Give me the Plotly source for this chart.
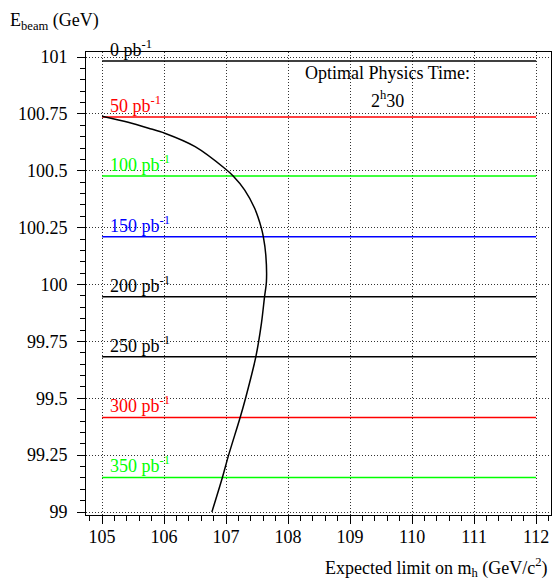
import plotly.graph_objects as go

# ---- data ----
lumi_pb = [0, 50, 100, 150, 200, 250, 300, 350]
ebeam_levels = [100.982, 100.736, 100.477, 100.210, 99.946, 99.683, 99.416, 99.152]
line_x_start = 105.0
line_x_end = 112.0

curve_mh = [105.00, 105.42, 105.75, 106.01, 106.50, 106.98, 107.11, 107.30, 107.46,
            107.57, 107.60, 107.64, 107.65, 107.62, 107.57, 107.48, 107.32, 107.23,
            107.04, 106.94, 106.77]
curve_ebeam = [100.740, 100.713, 100.687, 100.665, 100.606, 100.510, 100.478, 100.415, 100.335,
               100.247, 100.210, 100.130, 100.012, 99.947, 99.830, 99.683, 99.507, 99.419,
               99.250, 99.152, 99.000]

x_ticks = [105, 106, 107, 108, 109, 110, 111, 112]
y_ticks = [99, 99.25, 99.5, 99.75, 100, 100.25, 100.5, 100.75, 101]
y_tick_text = ["99", "99.25", "99.5", "99.75", "100", "100.25", "100.5", "100.75", "101"]

optimal_title = "Optimal Physics Time:"
optimal_value = "2<sup>h</sup>30"

# ---- styles ----
line_colors = ["#000000", "#ff0000", "#00ff00", "#0000ff", "#000000", "#000000", "#ff0000", "#00ff00"]
FONT = "Liberation Serif"

fig = go.Figure()

for lvl, col in zip(ebeam_levels, line_colors):
    fig.add_trace(go.Scatter(x=[line_x_start, line_x_end], y=[lvl, lvl], mode="lines",
                             line=dict(color=col, width=1.5), showlegend=False, hoverinfo="skip"))

fig.add_trace(go.Scatter(x=curve_mh, y=curve_ebeam, mode="lines",
                         line=dict(color="black", width=1.5, shape="spline", smoothing=0.8),
                         showlegend=False))

annotations = []
for l, lvl, col in zip(lumi_pb, ebeam_levels, line_colors):
    annotations.append(dict(x=105.1, y=lvl, xref="x", yref="y", xanchor="left", yanchor="bottom",
                            text=f"{l} pb<sup>-1</sup>", showarrow=False, yshift=-1,
                            font=dict(family=FONT, size=18, color=col)))

annotations.append(dict(x=109.6, y=100.93, xref="x", yref="y", xanchor="center", yanchor="middle",
                        text=optimal_title, showarrow=False, font=dict(family=FONT, size=18, color="black")))
annotations.append(dict(x=109.6, y=100.815, xref="x", yref="y", xanchor="center", yanchor="middle",
                        text=optimal_value, showarrow=False, font=dict(family=FONT, size=18, color="black")))

annotations.append(dict(x=-0.1677, y=1.066, xref="paper", yref="paper", xanchor="left", yanchor="middle",
                        text="E<sub>beam</sub> (GeV)", showarrow=False, font=dict(family=FONT, size=18, color="black")))
annotations.append(dict(x=0.998, y=-0.113, xref="paper", yref="paper", xanchor="right", yanchor="middle",
                        text="Expected limit on m<sub>h</sub> (GeV/c<sup>2</sup>)", showarrow=False,
                        font=dict(family=FONT, size=18, color="black")))

axis_common = dict(showline=True, linecolor="black", linewidth=1, mirror=True,
                   ticks="outside", ticklen=8, tickwidth=1, tickcolor="black",
                   showgrid=True, gridcolor="#333333", gridwidth=1, griddash="1px,2px",
                   zeroline=False, tickfont=dict(family=FONT, size=18, color="black"))

fig.update_layout(
    width=553, height=580,
    margin=dict(l=86, r=2, t=52, b=65),
    plot_bgcolor="white", paper_bgcolor="white",
    font=dict(family=FONT, size=18, color="black"),
    annotations=annotations,
    xaxis=dict(range=[104.74, 112.24], tickvals=x_ticks, ticklabelstandoff=-3,
               minor=dict(dtick=0.2, ticklen=5, ticks="outside", tickcolor="black", showgrid=False),
               **axis_common),
    yaxis=dict(range=[98.987, 101.022], tickvals=y_ticks, ticktext=y_tick_text, ticklabelstandoff=6,
               minor=dict(dtick=0.05, ticklen=5, ticks="outside", tickcolor="black", showgrid=False),
               **axis_common),
)

fig.write_html("out.html", config={"displayModeBar": False},
               post_script="document.body.style.margin='0';")
